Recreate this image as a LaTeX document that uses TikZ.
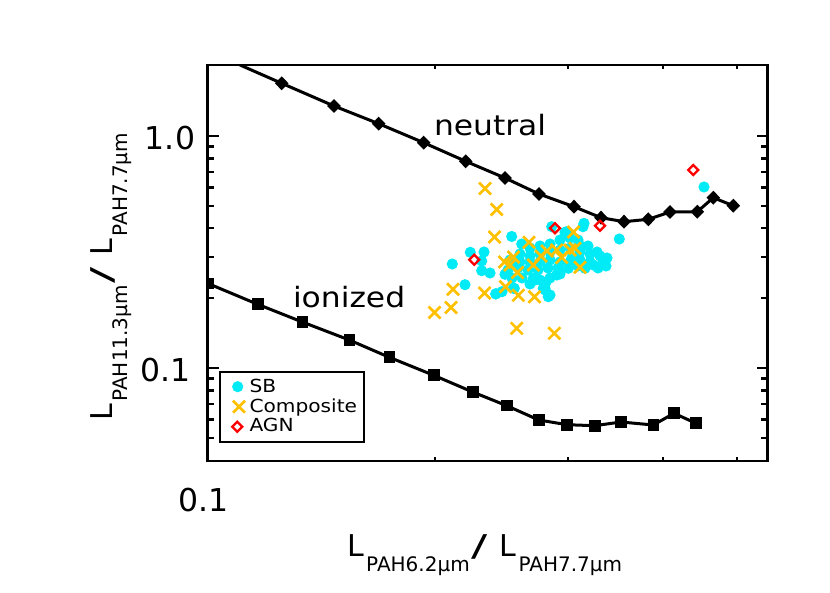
\documentclass[tikz,border=0pt]{standalone}
\usepackage{fontspec}
\setmainfont{DejaVu Sans}
\newfontfamily\widefont{DejaVu Sans}[FakeStretch=1.12]
\usepackage{graphicx}
\definecolor{sbcol}{RGB}{0,235,245}
\definecolor{compcol}{RGB}{255,192,0}
\definecolor{agncol}{RGB}{255,0,0}
\newcommand\sublab[1]{\lower15pt\hbox{\fontsize{20}{20}\selectfont #1}}
\newcommand\axlab[2]{\fontsize{30}{30}\selectfont L\kern2.5pt\sublab{#1}\kern1.5pt\scalebox{1.6}[1]{/}\kern12pt L\kern2.5pt\sublab{#2}}
\begin{document}
\begin{tikzpicture}[x=1pt,y=-1pt,
  frame/.style={line width=2.2pt},
  tick/.style={line width=2.2pt},
  model/.style={line width=3pt, line join=round},
  txt/.style={inner sep=0pt, outer sep=0pt},
  ticklab/.style={txt, font=\fontsize{31.5}{32}\selectfont},
  curvelab/.style={txt, anchor=base west, font=\widefont\fontsize{28}{28}\selectfont},
  leglab/.style={txt, anchor=base west, font=\widefont\fontsize{18}{18}\selectfont},
  crossmk/.style={compcol, line width=2.6pt},
  agnmk/.style={agncol, line width=2.3pt, line join=miter}]
\useasboundingbox (0,0) rectangle (830,593);
\fill[white] (0,0) rectangle (830,593);

% ---------- data (clipped to the frame) ----------
\begin{scope}
\clip (207.5,65) rectangle (767.5,461);
% SB
\foreach \x/\y in {452.3/264, 465/284.7, 470.3/252.3, 484/252, 481.7/261, 481.7/270.7,
  490/273, 496/293.7, 511.7/236.5, 521.7/244, 505/274.3, 514.3/288.3, 515/263,
  551.7/226.7, 565/232.3, 584/223.3, 579.3/245, 619.3/239, 704/187, 597/252,
  603.3/261.7, 593.3/265, 550/295, 545/288.3, 533.3/278.3, 568.3/268.3, 556.7/275,
  502/291.7, 545/290, 548.3/296.7, 571.7/258.3, 585/268.3, 566.7/231.7, 583/226.7,
  535/280, 543.3/288.3, 513.3/288.3, 495.7/294,
  530/248, 540/246, 550/244, 560/240, 570/238, 578/240, 588/246,
  520/254, 530/256, 540/254, 550/252, 560/250, 570/248, 580/252, 590/254, 600/256, 607/258,
  510/260, 520/262, 530/262, 540/262, 550/260, 560/262, 570/262, 580/260, 590/262, 606/266,
  508/270, 518/268, 528/270, 538/270, 548/268, 558/268, 578/266, 598/268,
  512/278, 522/278, 530/284, 540/280, 550/278, 560/274, 546/282}
  \fill[sbcol] (\x,\y) circle (5.6pt);
% Composite
\foreach \x/\y in {485/188.5, 496.7/209.5, 494.5/237, 453/289.3, 451/307.5, 434.5/312.5,
  484.5/293, 505.5/286.7, 518.3/295.3, 516.7/328.3, 554.3/333.3, 504.5/262, 513.5/257,
  510/265, 517.5/272.5, 529/242.3, 573.5/232, 541/256, 547/251, 556.7/250, 561.7/257.5,
  570/250, 575/248.3, 533.3/265, 580/267.3, 534.5/296.8}
  \draw[crossmk] (\x-6,\y-6) -- (\x+6,\y+6) (\x-6,\y+6) -- (\x+6,\y-6);
% neutral model
\draw[model] plot coordinates {(240,65) (281.7,83.3) (334,106) (378.7,123.7) (423.7,142.7)
  (465.7,161.3) (505,178) (539,194) (574,206.7) (601,217.7) (624,221.7) (648.3,219.3)
  (670,212) (697.3,211.7) (713.3,197.7) (733.3,205.7)};
\foreach \x/\y in {281.7/83.3, 334/106, 378.7/123.7, 423.7/142.7, 465.7/161.3, 505/178,
  539/194, 574/206.7, 601/217.7, 624/221.7, 648.3/219.3, 670/212, 697.3/211.7,
  713.3/197.7, 733.3/205.7}
  \fill (\x,\y-7) -- (\x+6.8,\y) -- (\x,\y+7) -- (\x-6.8,\y) -- cycle;
% ionized model
\draw[model] plot coordinates {(208,283.5) (257.7,304.3) (302.3,322) (349.3,340) (389.3,357.3)
  (433.7,375.3) (472.7,392) (506.7,405.7) (538.7,420) (567,424.7) (594.7,425.7) (621,422)
  (653.3,425) (674,413.3) (696,423.3)};
\foreach \x/\y in {208/283.5, 257.7/304.3, 302.3/322, 349.3/340, 389.3/357.3, 433.7/375.3,
  472.7/392, 506.7/405.7, 538.7/420, 567/424.7, 594.7/425.7, 621/422, 653.3/425,
  674/413.3, 696/423.3}
  \fill (\x-5.8,\y-5.8) rectangle (\x+5.8,\y+5.8);
% AGN
\foreach \x/\y in {474.3/259.7, 555/228.3, 600/225.7, 693.3/170}
  \draw[agnmk] (\x,\y-5) -- (\x+5,\y) -- (\x,\y+5) -- (\x-5,\y) -- cycle;
\end{scope}

% ---------- frame and ticks ----------
\draw[frame] (207.5,65) rectangle (767.5,461);
\foreach \y in {136,368.3}
  \draw[tick] (207.5,\y) -- (218.5,\y) (767.5,\y) -- (756.5,\y);
\foreach \y in {146.6,158.5,171.9,187.5,205.8,228.3,257.3,298.2,378.6,390.5,404,419.5,437.8}
  \draw[tick] (207.5,\y) -- (214,\y) (767.5,\y) -- (761,\y);
\foreach \x in {435,568.3,662.7,736.7}
  \draw[tick] (\x,461) -- (\x,457) (\x,65) -- (\x,69);

% ---------- tick labels ----------
\node[ticklab] (y10) at (170,138.5) {1.0};
\node[ticklab] (y01) at (165.5,370.3) {0.1};
\node[ticklab] (x01) at (203.3,500) {0.1};

% ---------- curve labels ----------
\node[curvelab] (neutral) at (434,136) {neutral};
\node[curvelab] (ionized) at (293,308) {ionized};

% ---------- axis titles ----------
\node[txt, anchor=base west] (xlab) at (347,556) {\axlab{PAH6.2μm}{PAH7.7μm}};
\node[txt, anchor=base west, rotate=90] (ylab) at (112.5,420.7) {\axlab{PAH11.3μm}{PAH7.7μm}};

% ---------- legend ----------
\draw[line width=1.8pt] (220,371.7) rectangle (364,442.3);
\fill[sbcol] (237.7,386.7) circle (5.6pt);
\draw[crossmk] (233,400.7) -- (245,412.7) (233,412.7) -- (245,400.7);
\draw[agnmk] (237.3,421.7) -- (242.3,426.7) -- (237.3,431.7) -- (232.3,426.7) -- cycle;
\node[leglab] (lsb) at (249.5,392.3) {SB};
\node[leglab] (lcomp) at (249.5,412.3) {Composite};
\node[leglab] (lagn) at (249.5,431.7) {AGN};
\end{tikzpicture}
\end{document}
